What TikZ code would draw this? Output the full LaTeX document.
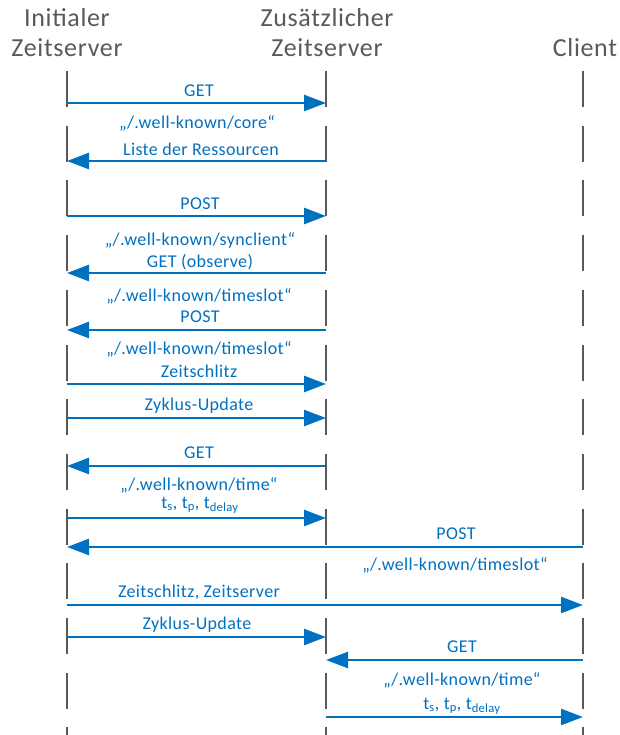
\documentclass[tikz,border=0pt]{standalone}
\usepackage{fontspec}
\setmainfont{Carlito}
\usetikzlibrary{arrows.meta}
\definecolor{msgblue}{HTML}{0070C0}
\definecolor{lifegray}{HTML}{595959}

\begin{document}
\begin{tikzpicture}[x=1pt,y=-1pt,
  actor/.style={text=lifegray, font=\fontsize{26}{30}\selectfont\addfontfeature{LetterSpace=2.5}, align=center, inner sep=0pt},
  lifeline/.style={draw=lifegray, line width=2pt, dash pattern=on 36pt off 18.7pt},
  msg/.style={draw=msgblue, line width=2.6pt, -{Triangle[length=22pt,width=16pt]}},
  lbl/.style={text=msgblue, font=\fontsize{18}{21}\selectfont\addfontfeature{LetterSpace=2}, inner sep=0pt},
]
\useasboundingbox (0,0) rectangle (620,735);

% participants
\node[actor] (hdrI) at (67,33) {Initialer\\Zeitserver};
\node[actor] (hdrZ) at (327,33) {Zusätzlicher\\Zeitserver};
\node[actor] (hdrC) at (585,48) {Client};

% lifelines
\coordinate (Itop) at (67,71);   \coordinate (Ibot) at (67,735);
\coordinate (Ztop) at (326,71);  \coordinate (Zbot) at (326,735);
\coordinate (Ctop) at (583,71);  \coordinate (Cbot) at (583,735);
\draw[lifeline] (Itop) -- (Ibot);
\draw[lifeline] (Ztop) -- (Zbot);
\draw[lifeline] (Ctop) -- (Cbot);

% message end points on the lifelines
\foreach \n/\y in {1/103,2/161,3/216,4/273,5/330,6/384,7/418,8/466,9/518,10/547,11/605,12/637,13/660,14/717}{
  \coordinate (I\n) at (67,\y);
  \coordinate (Z\n) at (326,\y);
  \coordinate (C\n) at (583,\y);
}

% messages
\draw[msg] (I1) -- (Z1);
\draw[msg] (Z2) -- (I2);
\draw[msg] (I3) -- (Z3);
\draw[msg] (Z4) -- (I4);
\draw[msg] (Z5) -- (I5);
\draw[msg] (I6) -- (Z6);
\draw[msg] (I7) -- (Z7);
\draw[msg] (Z8) -- (I8);
\draw[msg] (I9) -- (Z9);
\draw[msg] (C10) -- (I10);
\draw[msg] (I11) -- (C11);
\draw[msg] (I12) -- (Z12);
\draw[msg] (C13) -- (Z13);
\draw[msg] (Z14) -- (C14);

% labels
\node[lbl] (t1)  at (199,91)  {GET};
\node[lbl] (t1b) at (197,123) {„/.well-known/core“};
\node[lbl] (t2)  at (201,149) {Liste der Ressourcen};
\node[lbl] (t3)  at (200,204) {POST};
\node[lbl] (t3b) at (200,240) {„/.well-known/synclient“};
\node[lbl] (t4)  at (200,262) {GET (observe)};
\node[lbl] (t4b) at (199,296) {„/.well-known/timeslot“};
\node[lbl] (t5)  at (200,317) {POST};
\node[lbl] (t5b) at (199,349) {„/.well-known/timeslot“};
\node[lbl] (t6)  at (199,371) {Zeitschlitz};
\node[lbl] (t7)  at (199,406) {Zyklus-Update};
\node[lbl] (t8)  at (199,453) {GET};
\node[lbl] (t8b) at (199,485) {„/.well-known/time“};
\node[lbl] (t9)  at (200,505) {t\textsubscript{s}, t\textsubscript{p}, t\textsubscript{delay}};
\node[lbl] (t10) at (456,534) {POST};
\node[lbl] (t10b) at (455,565) {„/.well-known/timeslot“};
\node[lbl] (t11) at (199,592) {Zeitschlitz, Zeitserver};
\node[lbl] (t12) at (197,625) {Zyklus-Update};
\node[lbl] (t13) at (462,647) {GET};
\node[lbl] (t13b) at (462,680) {„/.well-known/time“};
\node[lbl] (t14) at (462,706) {t\textsubscript{s}, t\textsubscript{p}, t\textsubscript{delay}};
\end{tikzpicture}
\end{document}
